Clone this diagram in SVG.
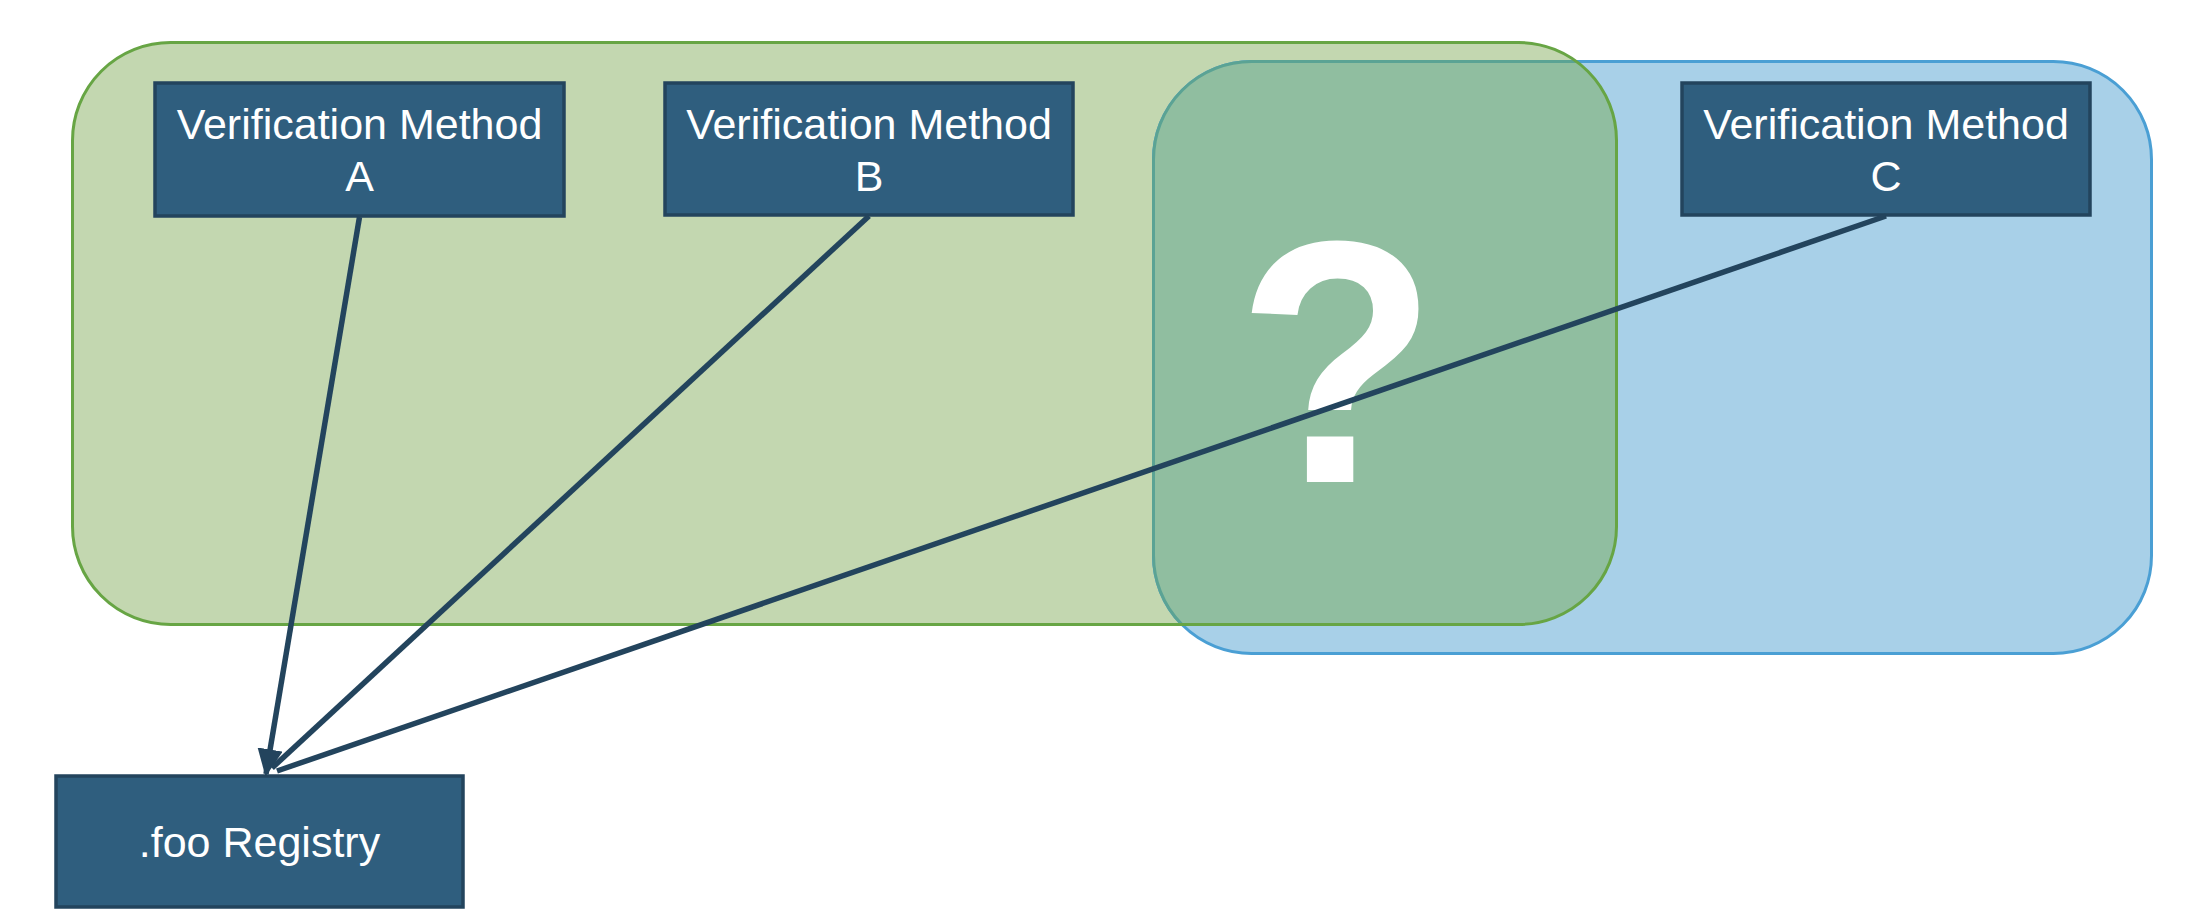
<svg xmlns="http://www.w3.org/2000/svg" width="2186" height="924" viewBox="0 0 2186 924">
  <style>
    .node rect { fill: #2f5e7e; stroke: #23445d; stroke-width: 3.5; }
    .node text { fill: #ffffff; font-family: "Liberation Sans", Arial, sans-serif; font-size: 43px; text-anchor: middle; }
    .conn { stroke: #23445d; stroke-width: 5.5; fill: none; }
  </style>
  <defs>
    <clipPath id="greenClip">
      <rect x="72.5" y="42.5" width="1544" height="582" rx="98" ry="98"/>
    </clipPath>
    <marker id="arrow" viewBox="0 0 10 10" refX="9" refY="5" markerWidth="5" markerHeight="4.6" markerUnits="strokeWidth" orient="auto" preserveAspectRatio="none">
      <path d="M0,0 L10,5 L0,10 z" fill="#23445d"/>
    </marker>
  </defs>
  <rect width="2186" height="924" fill="#ffffff"/>

  <g id="group-green-fill">
    <rect x="72.5" y="42.5" width="1544" height="582" rx="98" ry="98" fill="#c3d7b0"/>
  </g>
  <g id="group-blue">
    <rect x="1153.5" y="61.5" width="998" height="592" rx="98" ry="98" fill="#a8d0e8" stroke="#4a9fd4" stroke-width="3"/>
    <rect x="1153.5" y="61.5" width="998" height="592" rx="98" ry="98" fill="#90bea0" stroke="#5ba394" stroke-width="3" clip-path="url(#greenClip)"/>
  </g>
  <g id="group-green-border">
    <rect x="72.5" y="42.5" width="1544" height="582" rx="98" ry="98" fill="none" stroke="#67a544" stroke-width="3"/>
  </g>

  <g id="question-mark">
    <text x="0" y="0" transform="translate(1337 482) scale(0.95 1)" fill="#ffffff" font-family="Liberation Sans, Arial, sans-serif" font-weight="bold" font-size="346" text-anchor="middle">?</text>
  </g>

  <g id="node-a" class="node">
    <rect x="155" y="83" width="409" height="133"/>
    <text x="359.5" y="139">Verification Method</text>
    <text x="359.5" y="191">A</text>
  </g>
  <g id="node-b" class="node">
    <rect x="665" y="83" width="408" height="132"/>
    <text x="869" y="139">Verification Method</text>
    <text x="869" y="191">B</text>
  </g>
  <g id="node-c" class="node">
    <rect x="1682" y="83" width="408" height="132"/>
    <text x="1886" y="139">Verification Method</text>
    <text x="1886" y="191">C</text>
  </g>
  <g id="node-registry" class="node">
    <rect x="56" y="776" width="407" height="131"/>
    <text x="259.5" y="857">.foo Registry</text>
  </g>

  <g id="connectors">
    <line class="conn" x1="359.5" y1="217" x2="266" y2="774" marker-end="url(#arrow)"/>
    <line class="conn" x1="869" y1="216" x2="272" y2="768"/>
    <line class="conn" x1="1886" y1="216" x2="277" y2="771"/>
  </g>
</svg>
